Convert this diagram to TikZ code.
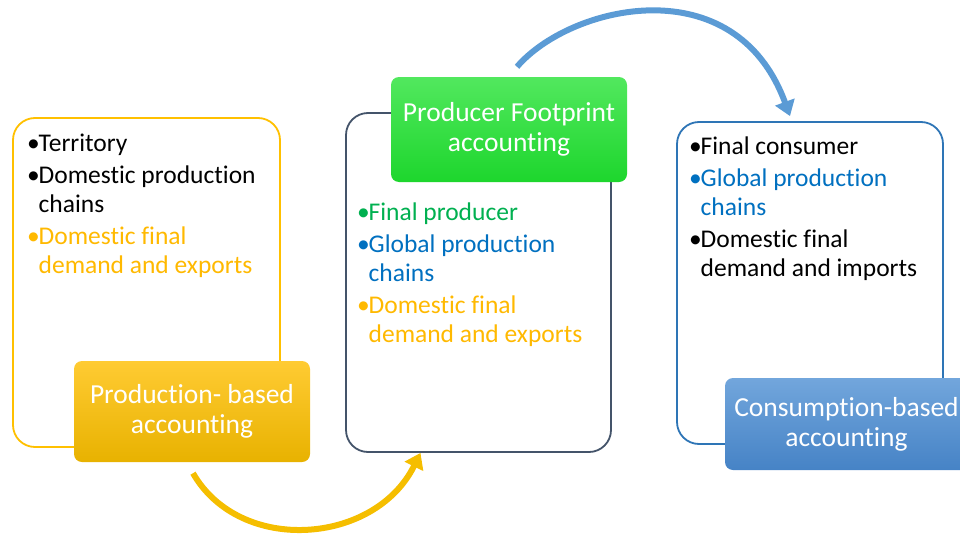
\documentclass[tikz,border=0pt]{standalone}
\usepackage{fontspec}
\setmainfont{Carlito}[Ligatures=NoCommon]
\usetikzlibrary{arrows.meta,calc}

\definecolor{gold}{HTML}{FFC000}
\definecolor{goldtxt}{HTML}{FFB900}
\definecolor{slate}{HTML}{44546A}
\definecolor{steel}{HTML}{2E75B6}
\definecolor{leaf}{HTML}{00B050}
\definecolor{ocean}{HTML}{0070C0}
\definecolor{goldtop}{HTML}{FFCB33}
\definecolor{goldbot}{HTML}{E8B200}
\definecolor{greentop}{HTML}{52E85E}
\definecolor{greenbot}{HTML}{1DD62D}
\definecolor{bluetop}{HTML}{72A6DC}
\definecolor{bluebot}{HTML}{4683C6}
\definecolor{goldarrow}{HTML}{F5BE00}
\definecolor{bluearrow}{HTML}{5B9BD5}

% bullet and hanging indent for the item lists
\newcommand{\bul}{\makebox[0.45em][l]{•}}
\newcommand{\hang}{\hspace*{0.45em}}

\begin{document}
\begin{tikzpicture}[x=1pt,y=-1pt,
  frame/.style={draw, line width=1.8pt, rounded corners=22pt, fill=white, inner sep=0},
  tag/.style={rounded corners=8pt, inner sep=0, text=white, align=center,
              font=\fontsize{27.5}{30}\selectfont},
  itemlist/.style={anchor=north west, inner sep=0, align=left,
                   font=\fontsize{25.5}{28.5}\selectfont},
  flow/.style={line width=6pt, -{Triangle[length=15pt,width=20pt]}}]
\useasboundingbox (0,0) rectangle (960,535);

% outlined panels
\node[frame, draw=gold,  minimum width=267pt, minimum height=329pt] (lbox) at (146.5,282.5) {};
\node[frame, draw=slate, minimum width=265pt, minimum height=339pt] (mbox) at (478.5,282.5) {};
\node[frame, draw=steel, minimum width=266pt, minimum height=322pt] (rbox) at (810,283) {};

% item lists
\node[itemlist] (llist) at (27,134) {%
  \bul Territory\\[3.5pt]
  \bul Domestic production\\
  \hang chains\\[4pt]
  \textcolor{goldtxt}{\bul Domestic final}\\
  \textcolor{goldtxt}{\hang demand and exports}};

\node[itemlist] (mlist) at (357,203) {%
  \textcolor{leaf}{\bul Final producer}\\[3.5pt]
  \textcolor{ocean}{\bul Global production}\\
  \textcolor{ocean}{\hang chains}\\[4pt]
  \textcolor{goldtxt}{\bul Domestic final}\\
  \textcolor{goldtxt}{\hang demand and exports}};

\node[itemlist] (rlist) at (689,137) {%
  \bul Final consumer\\[3.5pt]
  \textcolor{ocean}{\bul Global production}\\
  \textcolor{ocean}{\hang chains}\\[4pt]
  \bul Domestic final\\
  \hang demand and imports};

% labelled tags
\node[tag, top color=goldtop, bottom color=goldbot,
      minimum width=236pt, minimum height=101pt] (ptag) at (192,411.5)
  {Production- based\\accounting};
\node[tag, top color=greentop, bottom color=greenbot,
      minimum width=236pt, minimum height=105pt] (gtag) at (509,129.5)
  {Producer Footprint\\accounting};
\node[tag, top color=bluetop, bottom color=bluebot,
      minimum width=243pt, minimum height=92pt] (ctag) at (846.5,424)
  {Consumption-based\\accounting};

% curved transitions
\draw[flow, draw=goldarrow]
  ([shift={(1,11)}]ptag.south) .. controls (240,555) and (375,545) .. ([xshift=-58]mbox.south);
\draw[flow, draw=bluearrow]
  ([shift={(8,-10)}]gtag.north) .. controls (570,5) and (735,-34) .. ([shift={(-20,-5)}]rbox.north);
\end{tikzpicture}
\end{document}
